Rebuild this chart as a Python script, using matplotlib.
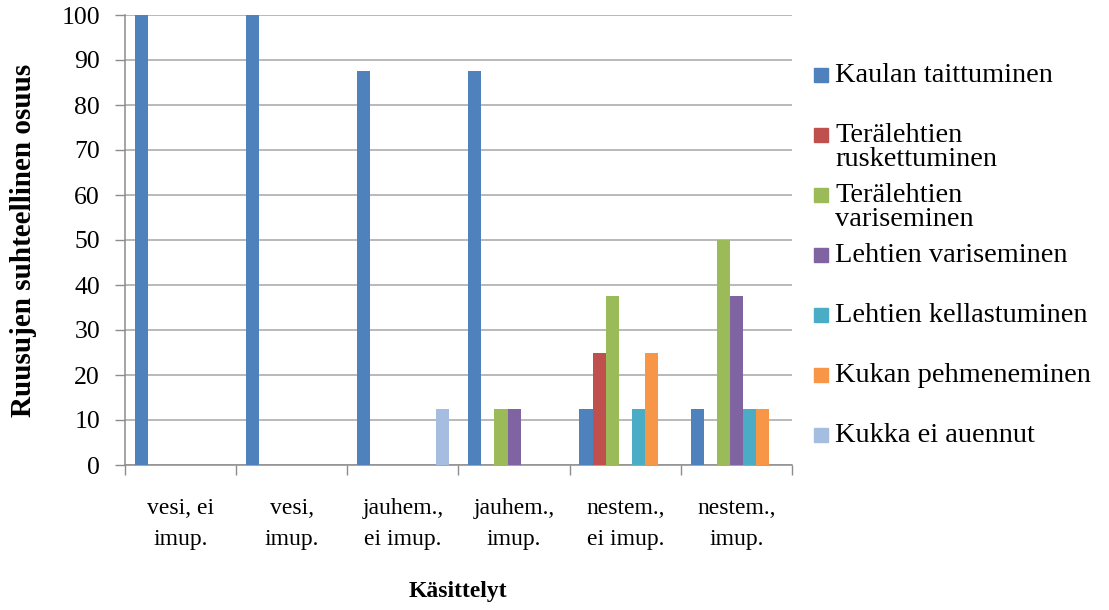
import numpy as np
import matplotlib
matplotlib.use("Agg")
import matplotlib.pyplot as plt
from matplotlib.patches import Rectangle

plt.rcParams['font.family'] = ['Liberation Serif', 'DejaVu Serif']

kasittelyt = ["vesi, ei\nimup.", "vesi,\nimup.", "jauhem.,\nei imup.",
              "jauhem.,\nimup.", "nestem.,\nei imup.", "nestem.,\nimup."]

sarjat = ["Kaulan taittuminen", "Terälehtien\nruskettuminen",
          "Terälehtien\nvariseminen", "Lehtien variseminen",
          "Lehtien kellastuminen", "Kukan pehmeneminen", "Kukka ei auennut"]

kaulan_taittuminen = [100, 100, 87.5, 87.5, 12.5, 12.5]
ter_ruskettuminen = [0, 0, 0, 0, 25, 0]
ter_variseminen = [0, 0, 0, 12.5, 37.5, 50]
lehtien_variseminen = [0, 0, 0, 12.5, 0, 37.5]
lehtien_kellastuminen = [0, 0, 0, 0, 12.5, 12.5]
kukan_pehmeneminen = [0, 0, 0, 0, 25, 12.5]
kukka_ei_auennut = [0, 0, 12.5, 0, 0, 0]

arvot = [kaulan_taittuminen, ter_ruskettuminen, ter_variseminen,
         lehtien_variseminen, lehtien_kellastuminen, kukan_pehmeneminen,
         kukka_ei_auennut]

varit = ["#4f81bd", "#c0504d", "#9bbb59", "#8064a2", "#4bacc6", "#f79646", "#a5bde0"]

W, H = 1109, 610
fig = plt.figure(figsize=(W / 100, H / 100), dpi=100)
ax = fig.add_axes([125 / W, 1 - 465 / H, 667 / W, 450 / H])

n = len(sarjat)
leveys = 1 / (n + 1.5)  # gap width 150 %
x = np.arange(len(kasittelyt))
for i, (vals, c) in enumerate(zip(arvot, varit)):
    pos = x - 0.5 + 0.75 * leveys + (i + 0.5) * leveys
    ax.bar(pos, vals, width=leveys, color=c, edgecolor="none", zorder=3)

ax.set_xlim(-0.5, len(kasittelyt) - 0.5)
ax.set_ylim(0, 100)
ax.set_yticks(np.arange(0, 101, 10))
ax.yaxis.grid(True, color="#a6a6a6", linewidth=1.1, zorder=0)

ax.set_xticks(x)
ax.set_xticklabels(kasittelyt, fontsize=17, linespacing=1.6)
ax.set_xticks(np.arange(-0.5, len(kasittelyt)), minor=True)
ax.tick_params(axis="x", which="major", length=0, pad=24)
ax.tick_params(axis="x", which="minor", length=7, width=1, color="#8c8c8c")
ax.tick_params(axis="y", length=7, width=1, color="#8c8c8c", labelsize=18.5, pad=11)

for s in ["top", "right"]:
    ax.spines[s].set_visible(False)
for s in ["left", "bottom"]:
    ax.spines[s].set_color("#8c8c8c")
    ax.spines[s].set_linewidth(1.1)

fig.text(24 / W, 1 - 240 / H, "Ruusujen suhteellinen osuus", fontsize=21,
         fontweight="bold", rotation=90, ha="center", va="center")
fig.text(458 / W, 1 - 592 / H, "Käsittelyt", fontsize=17, fontweight="bold",
         ha="center", va="center")

# selite oikealle, rivit 60 px välein
for i, (nimi, c) in enumerate(zip(sarjat, varit)):
    yt = 68 + 60 * i
    fig.patches.append(Rectangle((814 / W, 1 - (yt + 14) / H), 14 / W, 14 / H,
                                 transform=fig.transFigure, color=c, figure=fig))
    fig.text(835 / W, 1 - (yt - 5) / H, nimi, fontsize=20.4, va="top", ha="left",
             linespacing=0.95)

fig.savefig("out.png", dpi=100)
